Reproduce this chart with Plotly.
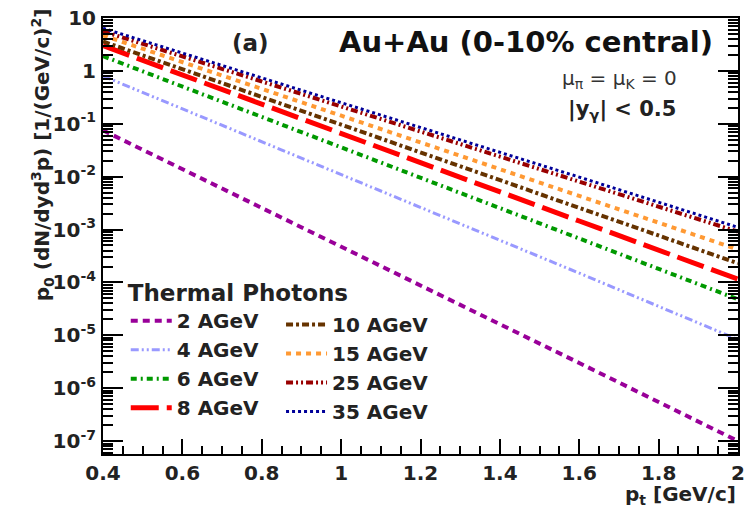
import plotly.graph_objects as go

# transverse momentum grid [GeV/c]
pt = [0.4, 0.8, 1.2, 1.6, 2.0]

# invariant thermal photon yields p0 dN/(dy d^3p) [1/(GeV/c)^2]
energies = ["2 AGeV", "4 AGeV", "6 AGeV", "8 AGeV",
            "10 AGeV", "15 AGeV", "25 AGeV", "35 AGeV"]
yield_2 = [0.075, 2.6e-3, 8.7e-5, 3.0e-6, 1.0e-7]
yield_4 = [0.80, 0.046, 2.6e-3, 1.5e-4, 8.3e-6]
yield_6 = [1.9, 0.135, 9.5e-3, 6.8e-4, 4.8e-5]
yield_8 = [3.0, 0.23, 1.84e-2, 1.45e-3, 1.15e-4]
yield_10 = [3.6, 0.32, 0.029, 2.6e-3, 2.3e-4]
yield_15 = [4.7, 0.46, 0.044, 4.3e-3, 4.2e-4]
yield_25 = [5.6, 0.63, 0.072, 8.1e-3, 9.1e-4]
yield_35 = [6.4, 0.74, 0.085, 9.8e-3, 1.1e-3]
yields = [yield_2, yield_4, yield_6, yield_8,
          yield_10, yield_15, yield_25, yield_35]

colors = ["#990099", "#9999ff", "#009900", "#ff0000",
          "#663300", "#ff9933", "#990000", "#000099"]
dashes = ["7px,5px", "8px,3px,2px,3px,2px,3px", "6px,4px,2px,4px", "28px,8px",
          "7px,3px,3px,3px", "5px,5px", "7px,3px,2px,3px,2px,3px", "3px,3px"]
widths = [4, 3, 4, 5, 4, 4, 4, 3]

# decade tick labels on the yield axis
ydecades = [10.0 ** k for k in range(-7, 2)]
ylabels = ["10" if k == 1 else ("1" if k == 0 else f"10<sup>{k}</sup>") for k in range(-7, 2)]

FONT = "DejaVu Sans"
YRANGE = [-7.244, 1.0]

fig = go.Figure()
for i, (name, y) in enumerate(zip(energies, yields)):
    fig.add_trace(go.Scatter(
        x=pt, y=y, mode="lines", name=name,
        line=dict(color=colors[i], dash=dashes[i], width=widths[i]),
        legend="legend" if i < 4 else "legend2",
    ))
# invisible carrier for the labelled overlay axis
fig.add_trace(go.Scatter(x=[pt[0]], y=[ydecades[-1]], yaxis="y2", mode="none",
                         showlegend=False, hoverinfo="skip"))

W, H = 751, 507
L, R, T, B = 103, 6, 15, 53
pw, ph = W - L - R, H - T - B


def px(x):
    return (x - L) / pw


def py(y):
    return (H - B - y) / ph


legend_common = dict(
    bgcolor="rgba(0,0,0,0)", borderwidth=0,
    font=dict(family=FONT, size=20, color="#222", weight="bold"),
    itemwidth=41, tracegroupgap=0, itemclick=False,
    xanchor="left", yanchor="top",
)


def note(text, x, y, size, bold=True, color="#222", **kw):
    return dict(text=text, x=px(x), y=py(y), xref="paper", yref="paper",
                xanchor=kw.pop("xanchor", "center"), yanchor=kw.pop("yanchor", "middle"),
                showarrow=False,
                font=dict(family=FONT, size=size, color=color,
                          weight="bold" if bold else "normal"), **kw)


fig.update_layout(
    width=W, height=H,
    margin=dict(l=L, r=R, t=T, b=B),
    paper_bgcolor="white", plot_bgcolor="white",
    legend=dict(x=px(126), y=py(270),
                title=dict(text="Thermal Photons",
                           font=dict(family=FONT, size=23, color="#222", weight="bold")),
                **legend_common),
    legend2=dict(x=px(283), y=py(304), **legend_common),
    xaxis=dict(
        range=[0.4, 2.0], showgrid=False, zeroline=False,
        showline=True, linecolor="black", linewidth=2, mirror=True,
        ticks="inside", ticklen=15, tickwidth=1.5, tickcolor="black",
        tickvals=[0.4, 0.6, 0.8, 1.0, 1.2, 1.4, 1.6, 1.8, 2.0],
        ticktext=["0.4", "0.6", "0.8", "1", "1.2", "1.4", "1.6", "1.8", "2"],
        ticklabelstandoff=0,
        tickfont=dict(family=FONT, size=20, color="#222", weight="bold"),
        minor=dict(ticks="inside", ticklen=8, tickwidth=1.5, tickcolor="black",
                   dtick=0.05, showgrid=False),
    ),
    yaxis=dict(
        type="log", range=YRANGE, showgrid=False, zeroline=False,
        showline=True, linecolor="black", linewidth=2, mirror="allticks",
        ticks="inside", ticklen=20, tickwidth=1.5, tickcolor="black",
        tickmode="linear", tick0=0, dtick=1, showticklabels=False,
        minor=dict(ticks="inside", ticklen=10, tickwidth=1.5, tickcolor="black",
                   dtick="D1", showgrid=False),
    ),
    yaxis2=dict(
        type="log", range=YRANGE, overlaying="y", side="left",
        showgrid=False, zeroline=False, showline=False, ticks="",
        tickvals=ydecades, ticktext=ylabels, ticklabelstandoff=6,
        tickfont=dict(family=FONT, size=20, color="#222", weight="bold"),
    ),
    annotations=[
        note("(a)", 252, 40, 23),
        note("Au+Au (0-10% central)", 531, 39, 29, color="#111"),
        note("μ<sub>π</sub> = μ<sub>K</sub> = 0", 625, 76, 20, bold=False, color="#333"),
        note("|y<sub>γ</sub>| < 0.5", 628, 108, 21),
        note("p<sub>0</sub> (dN/dyd<sup>3</sup>p) [1/(GeV/c)<sup>2</sup>]", 42, 3, 20,
             yanchor="top", textangle=-90),
        note("p<sub>t</sub> [GeV/c]", 745, 495, 20, xanchor="right"),
    ],
)

fig.write_html("out.html")
